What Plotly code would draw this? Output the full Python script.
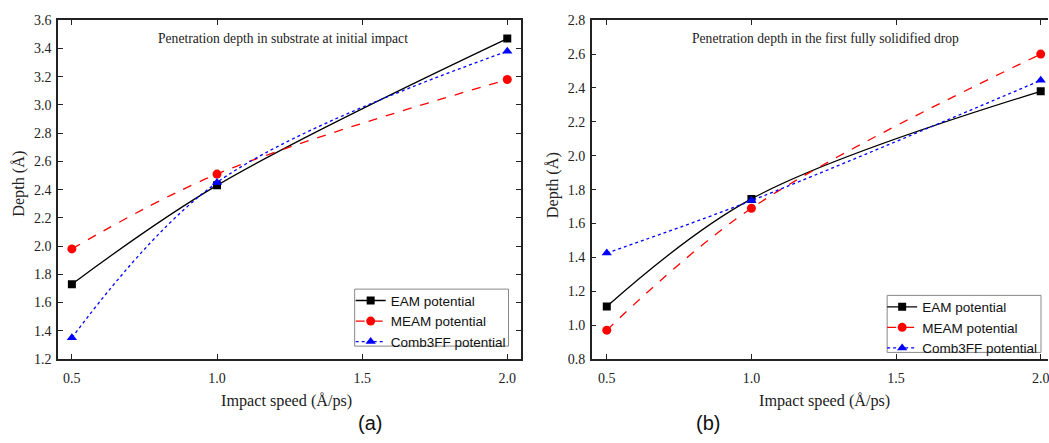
import plotly.graph_objects as go

W, H = 1049, 443

speed = [0.5, 1.0, 2.0]

# Panel (a): penetration depth in substrate at initial impact
a_eam = [1.73, 2.43, 3.47]
a_meam = [1.98, 2.51, 3.18]
a_comb = [1.35, 2.45, 3.38]

# Panel (b): penetration depth in first fully solidified drop
b_eam = [1.11, 1.745, 2.38]
b_meam = [0.97, 1.69, 2.60]
b_comb = [1.425, 1.735, 2.445]

series_names = ["EAM potential", "MEAM potential", "Comb3FF potential"]
x_ticks = [0.5, 1.0, 1.5, 2.0]
a_yticks = [1.2, 1.4, 1.6, 1.8, 2.0, 2.2, 2.4, 2.6, 2.8, 3.0, 3.2, 3.4, 3.6]
b_yticks = [0.8, 1.0, 1.2, 1.4, 1.6, 1.8, 2.0, 2.2, 2.4, 2.6, 2.8]


def px(x):
    return x / W


def py(y):
    return (H - y) / H


styles = [
    dict(color="#000000", dash="solid", symbol="square", size=8),
    dict(color="#ff0000", dash="dash", symbol="circle", size=9),
    dict(color="#0000ff", dash="dot", symbol="triangle-up", size=9),
]

fig = go.Figure()

for panel, (ys, xa, ya, lg) in enumerate([
    ((a_eam, a_meam, a_comb), "x", "y", "legend"),
    ((b_eam, b_meam, b_comb), "x2", "y2", "legend2"),
]):
    for name, y, st in zip(series_names, ys, styles):
        fig.add_trace(go.Scatter(
            x=speed, y=y, name=name, mode="lines+markers",
            xaxis=xa, yaxis=ya, legend=lg,
            line=dict(color=st["color"], dash=st["dash"], width=1.3, shape="spline"),
            marker=dict(color=st["color"], symbol=st["symbol"], size=st["size"]),
        ))

axis_common = dict(
    showline=True, linecolor="#222", linewidth=1.5,
    ticks="inside", ticklen=5, tickwidth=1.3, tickcolor="#222",
    showgrid=False, zeroline=False,
    tickfont=dict(family="Liberation Serif", size=14, color="#222"),
)

legend_common = dict(
    xanchor="left", yanchor="top", borderwidth=0, bgcolor="rgba(0,0,0,0)",
    font=dict(family="Liberation Sans", size=13.5, color="#111"),
    tracegroupgap=0,
)

fig.update_layout(
    width=W, height=H,
    margin=dict(l=0, r=0, t=0, b=0),
    paper_bgcolor="white", plot_bgcolor="white",
    xaxis=dict(domain=[px(58), px(521.7)], range=[0.452, 2.048],
               tickvals=x_ticks, tickformat=".1f", mirror="allticks",
               ticklabelstandoff=5, anchor="y", **axis_common),
    yaxis=dict(domain=[py(364.3), py(13.7)], range=[1.2, 3.6],
               tickvals=a_yticks, tickformat=".1f", mirror="allticks",
               ticklabelstandoff=2, anchor="x", **axis_common),
    xaxis2=dict(domain=[px(592.3), 1.0], range=[0.448, 2.0252],
                tickvals=x_ticks, tickformat=".1f", mirror="allticks",
                ticklabelstandoff=5, ticklabeloverflow="allow",
                anchor="y2", **axis_common),
    yaxis2=dict(domain=[py(364.3), py(13.7)], range=[0.8, 2.8],
                tickvals=b_yticks, tickformat=".1f", mirror=False,
                ticklabelstandoff=2, anchor="x2", **axis_common),
    legend=dict(x=px(351), y=py(288), **legend_common),
    legend2=dict(x=px(883), y=py(294.5), **legend_common),
    showlegend=True,
)

# legend frames
for x0, y0, x1, y1 in [(355, 292, 509, 351), (888, 298.5, 1042, 357.5)]:
    fig.add_shape(type="rect", xref="paper", yref="paper",
                  x0=px(x0), x1=px(x1), y0=py(y1), y1=py(y0),
                  line=dict(color="#888", width=1), fillcolor="white", layer="above")

serif = dict(family="Liberation Serif", color="#222")
annots = [
    dict(x=px(283), y=py(33), text="Penetration depth in substrate at initial impact",
         font=dict(size=13.6, **serif)),
    dict(x=px(826.5), y=py(32.5), text="Penetration depth in the first fully solidified drop",
         font=dict(size=13.6, **serif)),
    dict(x=px(287), y=py(408), text="Impact speed (Å/ps)", font=dict(size=16.2, **serif)),
    dict(x=px(825), y=py(408), text="Impact speed (Å/ps)", font=dict(size=16.2, **serif)),
    dict(x=px(19), y=py(183), text="Depth (Å)", textangle=-90, font=dict(size=16.2, **serif)),
    dict(x=px(553), y=py(184), text="Depth (Å)", textangle=-90, font=dict(size=16.2, **serif)),
    dict(x=px(370), y=py(431), text="(a)", font=dict(family="Liberation Sans", size=20, color="#111")),
    dict(x=px(709), y=py(431), text="(b)", font=dict(family="Liberation Sans", size=20, color="#111")),
]
for a in annots:
    fig.add_annotation(xref="paper", yref="paper", showarrow=False,
                       xanchor="center", yanchor="middle", **a)

fig.write_html("out.html")
